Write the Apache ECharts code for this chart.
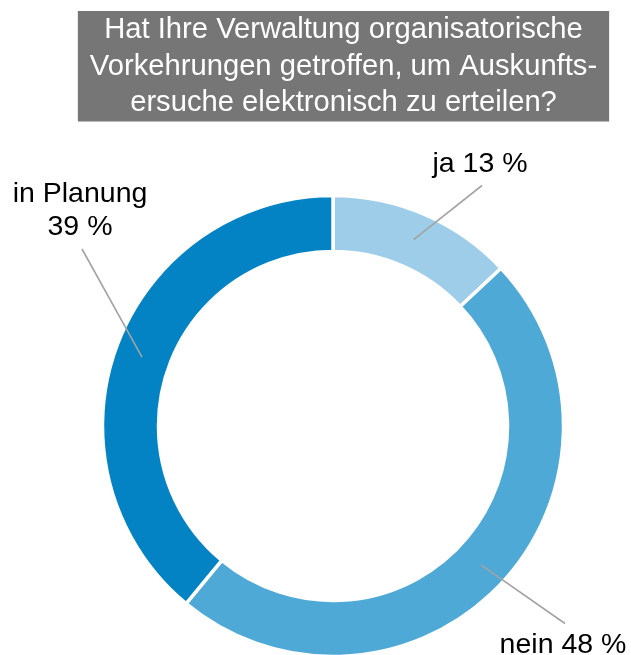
<!DOCTYPE html>
<html>
<head>
<meta charset="utf-8">
<script src="https://cdn.jsdelivr.net/npm/echarts@6/dist/echarts.min.js"></script>
<style>
  html, body { margin: 0; padding: 0; background: #fff; }
  #chart { width: 631px; height: 655px; }
</style>
</head>
<body>
<div id="chart"></div>
<script>
const titleLines = [
  'Hat Ihre Verwaltung organisatorische',
  'Vorkehrungen getroffen, um Auskunfts-',
  'ersuche elektronisch zu erteilen?'
]
const categories = ['ja', 'nein', 'in Planung']
const values = [13, 48, 39]
const labelSeparators = [' ', ' ', '\n']
const colors = ['#9dcde8', '#4fa9d6', '#0383c4']

// where the labels sit (pixels), and which side the leader line meets them
const labelSpots = [
  { x: 480, y: 164, side: 'bottom' },
  { x: 563, y: 645, side: 'top' },
  { x: 80, y: 211, side: 'bottom' }
]

const FONT = '"Liberation Sans", Arial, sans-serif'
const center = [333, 426]

const myChart = echarts.init(document.getElementById('chart'), null, { renderer: 'canvas' })

const pieData = categories.map((name, i) => ({
  name: name,
  value: values[i],
  itemStyle: { color: colors[i] }
}))

myChart.setOption({
  animation: false,
  title: {
    text: titleLines.join('\n'),
    left: 331.5,
    top: 11,
    textAlign: 'center',
    backgroundColor: '#767676',
    padding: [1, 12, 0, 12],
    textStyle: {
      color: '#fff',
      fontFamily: FONT,
      fontWeight: 'normal',
      fontSize: 29.2,
      lineHeight: 36.5
    }
  },
  series: [
    {
      type: 'pie',
      silent: true,
      z: 2,
      center: center,
      radius: [174.5, 230.5],
      startAngle: 90,
      clockwise: true,
      itemStyle: { borderColor: '#fff', borderWidth: 3.5 },
      label: { show: false },
      labelLine: { show: false },
      data: pieData
    },
    {
      // invisible ring at mid-width, only there to anchor labels and leader lines
      type: 'pie',
      silent: true,
      z: 5,
      center: center,
      radius: [0, 203],
      startAngle: 90,
      clockwise: true,
      avoidLabelOverlap: false,
      itemStyle: { color: 'rgba(0,0,0,0)' },
      label: {
        show: true,
        position: 'outside',
        color: '#000',
        fontFamily: FONT,
        fontSize: 28.5,
        lineHeight: 33,
        formatter: p => p.name + labelSeparators[p.dataIndex] + p.value + ' %'
      },
      labelLine: {
        show: true,
        length: 20,
        length2: 0,
        lineStyle: { color: '#a3a3a3', width: 1.6 }
      },
      labelLayout: params => {
        const spot = labelSpots[params.dataIndex]
        const h = params.labelRect.height
        const gap = 5
        const endY = spot.side === 'bottom' ? spot.y + h / 2 + gap : spot.y - h / 2 - gap
        const start = params.labelLinePoints[0]
        return {
          x: spot.x,
          y: spot.y,
          align: 'center',
          verticalAlign: 'middle',
          labelLinePoints: [start, [spot.x + 2, endY], [spot.x + 2, endY]]
        }
      },
      data: categories.map((name, i) => ({ name: name, value: values[i] }))
    }
  ]
})

window.onresize = () => {
  myChart.resize()
}
</script>
</body>
</html>
